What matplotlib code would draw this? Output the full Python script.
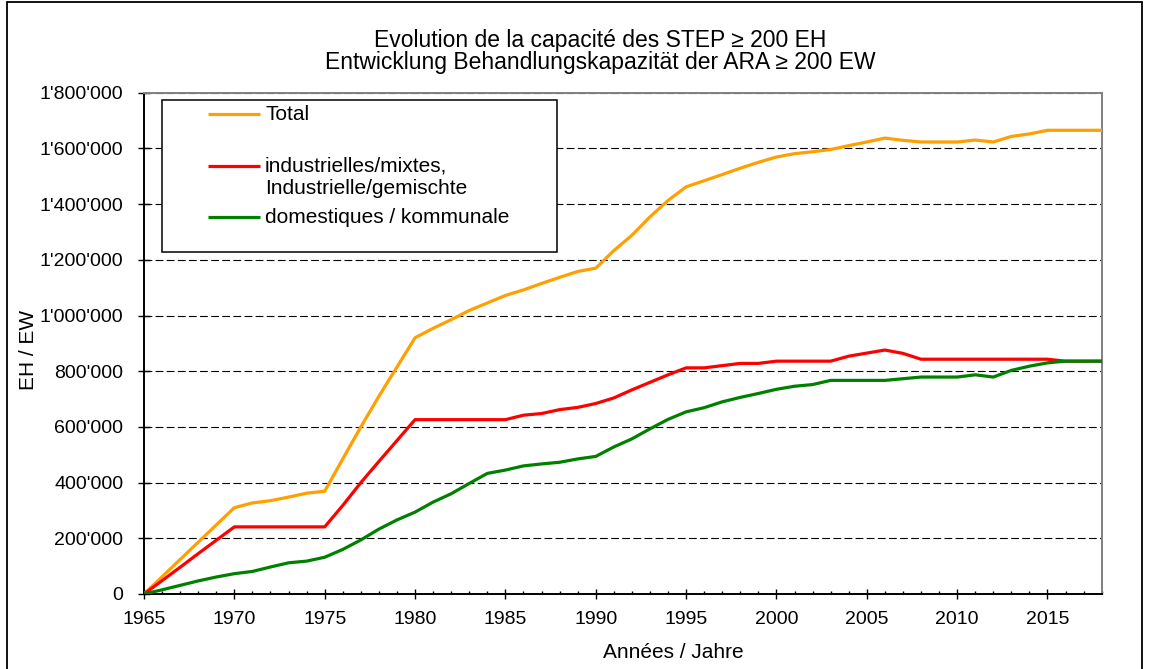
import numpy as np
import matplotlib
matplotlib.use("Agg")
import matplotlib.pyplot as plt
from matplotlib.patches import Rectangle
from matplotlib.ticker import FuncFormatter, MultipleLocator

plt.rcParams['font.family'] = ['Liberation Sans', 'DejaVu Sans']
plt.rcParams['font.size'] = 14

years = list(range(1965, 2019))

total = [0, 62000, 124000, 186000, 248000, 310000, 327000, 335000, 348000, 362000,
         369000, 485000, 600000, 710000, 815000, 920000, 954000, 985000, 1018000, 1045000,
         1072000, 1092000, 1115000, 1137000, 1158000, 1170000, 1233000, 1288000, 1354000, 1413000,
         1462000, 1484000, 1506000, 1529000, 1550000, 1569000, 1581000, 1588000, 1596000, 1610000,
         1623000, 1637000, 1629000, 1623000, 1623000, 1623000, 1630000, 1623000, 1643000, 1652000,
         1665000, 1665000, 1665000, 1665000]

industrial = [0, 48000, 96000, 145000, 193000, 241000, 241000, 241000, 241000, 241000,
              241000, 318000, 400000, 476000, 551000, 626000, 626000, 626000, 626000, 626000,
              626000, 642000, 648000, 662000, 670000, 684000, 704000, 733000, 760000, 787000,
              812000, 812000, 820000, 828000, 828000, 836000, 836000, 836000, 836000, 854000,
              865000, 876000, 864000, 843000, 843000, 843000, 843000, 843000, 843000, 843000,
              843000, 836000, 836000, 836000]

domestic = [0, 15000, 31000, 47000, 61000, 73000, 81000, 97000, 112000, 118000,
            132000, 160000, 194000, 233000, 266000, 294000, 330000, 360000, 397000, 433000,
            445000, 460000, 467000, 473000, 485000, 494000, 528000, 557000, 593000, 627000,
            654000, 669000, 690000, 706000, 720000, 735000, 746000, 752000, 767000, 767000,
            767000, 767000, 773000, 779000, 779000, 779000, 787000, 779000, 803000, 818000,
            830000, 836000, 836000, 836000]

labels = ["Total", "industrielles/mixtes,", "Industrielle/gemischte", "domestiques / kommunale"]
colors = ["#FFA000", "#FF0000", "#008000"]

W, H = 1149, 669
fig = plt.figure(figsize=(W / 100, H / 100), dpi=100)
x0, x1, ytop, ybot = 144, 1101.7, 92.7, 594
ax = fig.add_axes([x0 / W, (H - ybot) / H, (x1 - x0) / W, (ybot - ytop) / H])

ax.plot(years, total, color=colors[0], lw=2.3, zorder=3)
ax.plot(years, industrial, color=colors[1], lw=2.3, zorder=3)
ax.plot(years, domestic, color=colors[2], lw=2.3, zorder=4)

ax.set_xlim(1965, 2018)
ax.set_ylim(0, 1800000)
ax.xaxis.set_major_locator(MultipleLocator(5))
ax.xaxis.set_minor_locator(MultipleLocator(1))
ax.yaxis.set_major_locator(MultipleLocator(200000))
ax.yaxis.set_major_formatter(FuncFormatter(lambda v, p: f"{int(v):,}".replace(",", "'")))

ax.yaxis.grid(True, color='black', linestyle=(0, (7, 3)), linewidth=0.8, zorder=1)
ax.set_axisbelow(True)

ax.tick_params(axis='y', direction='inout', length=8, width=1, pad=11, labelsize=14)
ax.tick_params(axis='x', which='major', direction='inout', length=6.5, width=1, pad=9, labelsize=14)
ax.tick_params(axis='x', which='minor', direction='in', length=2.5, width=1)

for s in ['left', 'bottom']:
    ax.spines[s].set_linewidth(1.4)
    ax.spines[s].set_color('black')
for s in ['right', 'top']:
    ax.spines[s].set_linewidth(1.4)
    ax.spines[s].set_color('#808080')

def ax_x(px):
    return (px - x0) / (x1 - x0)

def ax_y(py):
    return (ybot - py) / (ybot - ytop)

ax.set_ylabel("EH / EW", fontsize=15)
ax.yaxis.set_label_coords(ax_x(28), ax_y(350))
ax.yaxis.label.set_va('center')
ax.set_xlabel("Années / Jahre", fontsize=15)
ax.xaxis.set_label_coords(ax_x(673), ax_y(652))
ax.xaxis.label.set_va('center')

fig.text(600 / W, 1 - 40.5 / H, "Evolution de la capacité des STEP ≥ 200 EH",
         ha='center', va='center', fontsize=16.5)
fig.text(600 / W, 1 - 63 / H, "Entwicklung Behandlungskapazität der ARA ≥ 200 EW",
         ha='center', va='center', fontsize=16.5)

# legend box drawn by hand to keep the gap under "Total"
ax.add_patch(Rectangle((ax_x(161.7), ax_y(251.7)), ax_x(557.3) - ax_x(161.7),
                       ax_y(100) - ax_y(251.7), transform=ax.transAxes,
                       facecolor='white', edgecolor='black', lw=1.1, zorder=5))
rows = [(114, colors[0], labels[0]), (166, colors[1], labels[1]), (217, colors[2], labels[3])]
for py, c, lab in rows:
    ax.plot([ax_x(208), ax_x(260)], [ax_y(py), ax_y(py)], color=c, lw=2.3,
            transform=ax.transAxes, zorder=6, solid_capstyle='butt')
    ax.text(ax_x(265), ax_y(py), lab, transform=ax.transAxes, va='center', ha='left',
            fontsize=15, zorder=6)
ax.text(ax_x(265), ax_y(188), labels[2], transform=ax.transAxes, va='center', ha='left',
        fontsize=15, zorder=6)

fig.add_artist(Rectangle((7 / W, -0.05), (1142 - 7) / W, (H - 2) / H + 0.05,
                         transform=fig.transFigure, fill=False, edgecolor='black', lw=1.3))

fig.savefig("out.png", dpi=100)
